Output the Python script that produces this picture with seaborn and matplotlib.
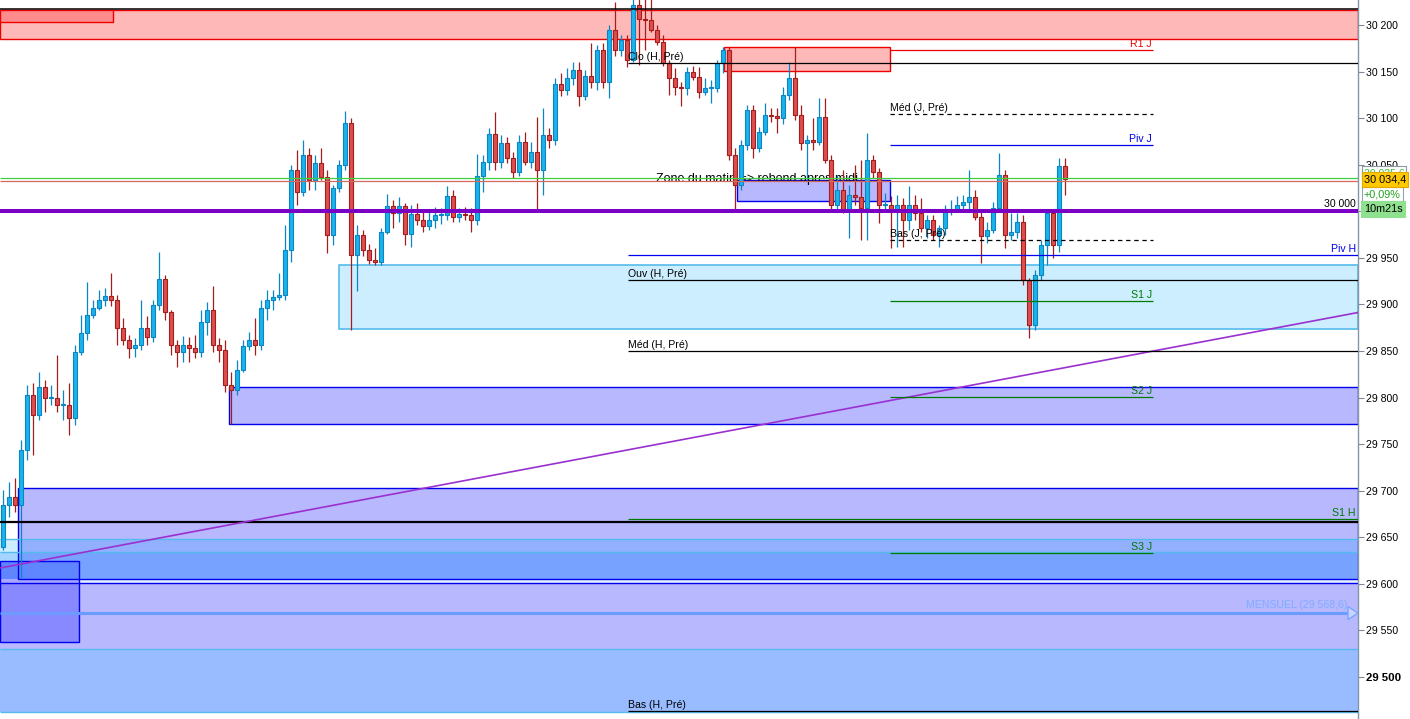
import numpy as np
import pandas as pd
import matplotlib
matplotlib.use("Agg")
import matplotlib.pyplot as plt
from matplotlib.patches import Rectangle, Polygon
import matplotlib.transforms as mtrans
import seaborn as sns

# ---------------- data ----------------
opens = [29640,29685,29693,29685,29744,29803,29781,29811,29799,29799,
         29792,29792,29778,29849,29869,29889,29896,29905,29909,29905,
         29875,29862,29853,29856,29875,29865,29899,29927,29892,29856,
         29849,29856,29853,29849,29881,29894,29856,29851,29813,29808,
         29830,29855,29862,29856,29896,29905,29908,29910,29958,30044,
         30021,30060,30034,30052,30037,29975,30025,30050,30095,29953,
         29975,29958,29948,29946,29978,30006,29998,30006,29976,29997,
         29991,29984,29991,29996,29996,30016,29994,29997,29996,29991,
         30038,30053,30083,30053,30073,30057,30042,30074,30053,30064,
         30044,30082,30077,30137,30130,30143,30152,30124,30145,30139,
         30173,30139,30195,30173,30184,30162,30221,30206,30205,30195,
         30182,30159,30143,30133,30132,30150,30144,30128,30132,30132,
         30159,30173,30060,30028,30071,30109,30068,30085,30103,30102,
         30100,30125,30143,30103,30073,30077,30074,30101,30055,30007,
         30023,30001,30017,30015,30003,30055,30042,30007,30007,30001,
         30007,29991,30007,29998,29982,29991,29975,29982,30001,30002,
         30007,30010,30015,29994,29973,29980,30003,30039,29975,29978,
         29988,29926,29878,29932,29964,29998,29964,30049]
highs = [29701,29709,29714,29754,29813,29816,29827,29819,29813,29846,
         29808,29816,29856,29889,29924,29905,29915,29918,29934,29910,
         29885,29867,29864,29905,29888,29905,29956,29932,29894,29862,
         29866,29865,29867,29894,29903,29920,29864,29862,29827,29840,
         29862,29870,29885,29905,29915,29915,29934,29985,30050,30066,
         30077,30068,30060,30068,30044,30028,30055,30108,30100,29985,
         29980,29965,29961,29982,30019,30012,30015,30009,30007,30009,
         29999,30001,30005,30003,30027,30023,30003,30005,30003,30061,
         30060,30089,30107,30082,30080,30064,30082,30085,30074,30101,
         30111,30089,30143,30148,30154,30160,30160,30152,30181,30178,
         30181,30200,30225,30189,30189,30243,30238,30232,30235,30200,
         30189,30162,30154,30139,30155,30156,30155,30143,30141,30162,
         30176,30176,30068,30077,30114,30114,30090,30116,30111,30111,
         30133,30160,30176,30114,30082,30100,30122,30122,30060,30039,
         30044,30028,30050,30055,30084,30060,30046,30020,30016,30017,
         30014,30027,30017,30014,29996,29996,29985,30007,30012,30016,
         30017,30044,30023,29999,29988,30010,30063,30044,29998,29998,
         29996,29928,29937,29969,30001,30001,30057,30057]
lows = [29636,29672,29677,29606,29733,29738,29776,29784,29792,29784,
        29776,29760,29771,29846,29862,29885,29894,29898,29898,29856,
        29856,29842,29844,29851,29856,29860,29894,29883,29846,29833,
        29838,29838,29842,29844,29867,29849,29838,29806,29772,29803,
        29827,29851,29846,29851,29883,29894,29905,29905,29946,30007,
        30016,30023,30023,30034,29955,29964,30021,30044,29872,29914,
        29952,29943,29942,29942,29976,29982,29988,29964,29962,29985,
        29978,29980,29982,29986,29991,29988,29988,29991,29978,29985,
        30021,30044,30044,30046,30052,30036,30038,30050,30046,30001,
        30017,30068,30071,30124,30125,30136,30113,30119,30132,30130,
        30132,30122,30167,30167,30155,30160,30157,30173,30192,30178,
        30156,30125,30125,30113,30125,30141,30122,30125,30116,30128,
        30148,30055,30001,30023,30066,30057,30064,30082,30096,30084,
        30094,30119,30098,30066,30034,30066,30071,30052,29999,29999,
        29998,29971,30007,29969,29969,30036,29987,29999,29961,29962,
        29962,29980,29991,29978,29971,29969,29962,29975,29996,29999,
        30001,30001,29991,29944,29966,29977,29999,29961,29969,29971,
        29921,29864,29872,29926,29942,29950,29956,30017]
closes = [29685,29693,29685,29744,29803,29781,29811,29799,29801,29792,
          29792,29778,29849,29869,29889,29896,29905,29909,29905,29875,
          29862,29853,29856,29875,29865,29899,29927,29892,29856,29849,
          29856,29853,29849,29881,29894,29856,29851,29813,29808,29830,
          29855,29862,29856,29896,29905,29908,29910,29958,30044,30021,
          30060,30034,30052,30037,29975,30025,30050,30095,29953,29975,
          29958,29948,29946,29978,30006,29998,30006,29976,29997,29991,
          29984,29991,29996,29996,30016,29994,29997,29996,29991,30038,
          30053,30083,30053,30073,30057,30042,30074,30053,30064,30044,
          30082,30077,30137,30130,30143,30152,30124,30145,30139,30173,
          30139,30195,30173,30184,30162,30221,30206,30205,30195,30182,
          30159,30143,30133,30132,30150,30144,30128,30132,30132,30159,
          30173,30060,30028,30071,30109,30068,30085,30103,30102,30100,
          30125,30143,30103,30073,30077,30074,30101,30055,30007,30023,
          30001,30017,30015,30003,30055,30042,30007,30007,30001,30007,
          29991,30007,29998,29982,29991,29975,29982,30001,30002,30007,
          30010,30015,29994,29973,29980,30003,30039,29975,29978,29988,
          29926,29878,29932,29964,29998,29964,30049,30034.4]

# price axis ticks (the 30 000 tick label is hidden behind the timer tag)
tick_values = [29500, 29550, 29600, 29650, 29700, 29750, 29800, 29850,
               29900, 29950, 30000, 30050, 30100, 30150, 30200]
tick_labels = ["29 500", "29 550", "29 600", "29 650", "29 700", "29 750",
               "29 800", "29 850", "29 900", "29 950", "", "30 050",
               "30 100", "30 150", "30 200"]

# zones (low, high)
zone_r1 = (30185.0, 30216.0)
zone_r1_left = (30203.0, 30216.0)
zone_clo = (30150.6, 30176.4)
zone_matin = (30011.0, 30033.6)
zone_cyan = (29873.6, 29942.3)
zone_s2 = (29771.6, 29811.3)
zone_a = (29604.8, 29702.5)
zone_a_bands = [29634.1, 29647.8]
zone_b = (29530.0, 29600.5)
zone_c = (29462.0, 29530.0)
zone_box = (29537.2, 29624.1)

# daily pivot levels (short lines) and weekly levels (long lines)
day_names = ["R1 J", "Méd (J, Pré)", "Piv J", "Bas (J, Pré)", "S1 J", "S2 J", "S3 J"]
day_values = [30173.2, 30104.4, 30071.2, 29969.2, 29903.7, 29800.6, 29633.1]
week_names = ["Clo (H, Pré)", "Piv H", "Ouv (H, Pré)", "Méd (H, Pré)", "S1 H", "Bas (H, Pré)"]
week_values = [30159.2, 29953.1, 29926.2, 29850.0, 29669.6, 29463.5]

top_black = 30217.0
bid_line = 30035.6
last_line = 30032.5
round_level = 30000.0
black_level = 29666.7
mensuel = 29568.6
trend_start, trend_end = 29617.0, 29891.3

price_tags = ["30 035,6", "30 034,4", "+0,09%", "10m21s"]

# ---------------- figure ----------------
sns.set_theme(style="white")
plt.rcParams['font.family'] = ['Liberation Sans', 'DejaVu Sans']

W, H = 1410, 719
PLOT_W = 1358
fig = plt.figure(figsize=(W / 100, H / 100), dpi=100)
fig.patch.set_facecolor("white")
ax = fig.add_axes([0, 0, PLOT_W / W, 1])
ax.set_facecolor("white")

PX = 6.0
def xi(px):
    return (px - 3) / PX

X0, X1 = xi(0), xi(PLOT_W)
ax.set_xlim(X0, X1)
ax.set_ylim(29454.9, 30226.8)

def rect(x0px, x1px, lo, hi, fc, ec="none", lw=0.0, z=1):
    ax.add_patch(Rectangle((xi(x0px), lo), xi(x1px) - xi(x0px), hi - lo,
                           facecolor=fc, edgecolor=ec, linewidth=lw, zorder=z))

BLUE = "#0000ee"
CYANE = "#55bbee"
LAV = "#b8b8ff"
PINK = "#ffb8b8"

# top red zone
rect(0, PLOT_W, *zone_r1, PINK, "#ee0000", 1.0)
rect(0, 113, *zone_r1_left, "#ff8c8c", "#ee0000", 1.0, z=1.1)
rect(724, 890, *zone_clo, PINK, "#ee0000", 1.0)
rect(737, 890, *zone_matin, LAV, BLUE, 1.0)
rect(339, PLOT_W, *zone_cyan, "#cceeff", CYANE, 1.2)
rect(229, PLOT_W, *zone_s2, LAV, BLUE, 1.0)

# lower stacked zones
rect(18, PLOT_W, *zone_a, LAV, "none", 0)
rect(18, PLOT_W, zone_a_bands[0], zone_a_bands[1], "#93b0ff", z=1.05)
rect(18, PLOT_W, zone_a[0], zone_a_bands[0], "#78a2ff", z=1.05)
rect(0, 18, zone_a_bands[0], zone_a_bands[1], "#cceeff", z=1.05)
rect(0, 18, zone_a[0], zone_a_bands[0], "#a4d4ff", z=1.05)
rect(0, PLOT_W, zone_b[1], zone_a[0], "#e4f2ff", z=1.0)
rect(0, PLOT_W, *zone_b, LAV, z=1.0)
rect(0, PLOT_W, *zone_c, "#99bbff", z=1.0)
rect(0, 79, zone_b[0] + 7.2, zone_b[1], "#8888ff", z=1.1)
rect(0, 79, zone_a[0], zone_box[1], "#5f86ff", z=1.1)
rect(0, 79, zone_b[1], zone_a[0], "#a8a8ff", z=1.1)
rect(0, 79, *zone_box, "none", BLUE, 1.0, z=1.2)
rect(18, PLOT_W, *zone_a, "none", BLUE, 1.0, z=1.2)
ax.hlines(zone_b[1], X0, X1, color=BLUE, lw=1.0, zorder=1.2)
for v in zone_a_bands + [zone_b[0], zone_c[0]]:
    ax.hlines(v, X0, X1, color=CYANE, lw=1.0, zorder=1.2)

# annotation text under candles
ax.text(xi(656), 30028.5, "Zone du matin => rebond apres midi", fontsize=9,
        color="black", ha="left", va="bottom", zorder=2)

# ---------------- candles ----------------
df = pd.DataFrame({"open": opens, "high": highs, "low": lows, "close": closes})
df["i"] = np.arange(len(df))
df["low"] = np.minimum(df["low"], np.minimum(df["open"], df["close"]))
df["high"] = np.maximum(df["high"], np.maximum(df["open"], df["close"]))
df["dir"] = np.where(df["close"] >= df["open"], "up", "down")
styles = {"up": ("#1cb2ea", "#0a86c4"), "down": ("#dc4f4f", "#a51c1c")}
for d, (fc, ec) in styles.items():
    s = df[df["dir"] == d]
    ax.vlines(s["i"], s["low"], s["high"], color=ec, lw=0.9, zorder=4)
    h = (s["close"] - s["open"]).abs().clip(lower=1.0)
    ax.bar(s["i"], h, bottom=np.minimum(s["open"], s["close"]), width=0.55,
           color=fc, edgecolor=ec, linewidth=0.8, zorder=5)

# ---------------- lines ----------------
ax.hlines(top_black, X0, X1, color="black", lw=1.1, zorder=6)
ax.hlines(bid_line, X0, X1, color="#3fcf3f", lw=0.9, zorder=6)
ax.hlines(last_line, X0, X1, color="#d06a5a", lw=0.9, zorder=6)
ax.hlines(round_level, X0, X1, color="#7a00c4", lw=2.9, zorder=6)
ax.hlines(black_level, X0, X1, color="black", lw=1.6, zorder=6)
ax.hlines(mensuel, X0, xi(1348), color="#6b9bff", lw=2.2, zorder=6)
ax.add_patch(Polygon([(xi(1348), mensuel + 7), (xi(1348), mensuel - 7),
                      (xi(1358), mensuel)], closed=True, facecolor="#c8d4ff",
                     edgecolor="#7aa6ff", lw=1.0, zorder=6))
sns.lineplot(x=[X0, X1], y=[trend_start, trend_end], ax=ax, color="#9a30d0",
             lw=1.2, zorder=6)

day_colors = {"R1 J": "#ee0000", "Piv J": "#0000ee", "S1 J": "#007a00",
              "S2 J": "#007a00", "S3 J": "#007a00"}
for name, v in zip(day_names, day_values):
    c = day_colors.get(name, "black")
    ls = (0, (3.5, 3)) if "Pré" in name else "-"
    ax.hlines(v, xi(890), xi(1153), color=c, lw=0.9, linestyles=ls, zorder=6)
    if "Pré" in name:
        ax.text(xi(890), v + 1.5, name, fontsize=7.6, color="black",
                ha="left", va="bottom", zorder=7)
    else:
        ax.text(xi(1152), v + 1.5, name, fontsize=7.6, color=c,
                ha="right", va="bottom", zorder=7)

week_colors = {"Piv H": "#0000ee", "S1 H": "#007a00"}
for name, v in zip(week_names, week_values):
    c = week_colors.get(name, "black")
    ax.hlines(v, xi(628), X1, color=c, lw=0.9, zorder=6)
    if "Pré" in name:
        ax.text(xi(628), v + 1.5, name, fontsize=7.6, color="black",
                ha="left", va="bottom", zorder=7)
    else:
        ax.text(xi(1356), v + 1.5, name, fontsize=7.6, color=c,
                ha="right", va="bottom", zorder=7)

ax.text(xi(1356), round_level + 2.5, "30 000", fontsize=7.6, color="black",
        ha="right", va="bottom", zorder=7)
ax.text(xi(1347), mensuel + 3.5, "MENSUEL (29 568,6)", fontsize=7.6,
        color="#80acff", ha="right", va="bottom", zorder=7)

# ---------------- right price axis ----------------
ax.yaxis.tick_right()
ax.set_yticks(tick_values)
ax.set_yticklabels(tick_labels)
ax.tick_params(axis="y", which="both", right=True, left=False, length=4,
               width=0.8, color="#7a8a9a", labelsize=7.6, pad=2,
               labelcolor="black")
for lab in ax.get_yticklabels():
    if lab.get_text() == "29 500":
        lab.set_fontweight("bold")
        lab.set_fontsize(8.2)
ax.set_xticks([])
for side in ["top", "left", "bottom"]:
    ax.spines[side].set_visible(False)
ax.spines["right"].set_color("#8596a8")
ax.spines["right"].set_linewidth(1.0)

# price tags on the axis
tr = mtrans.blended_transform_factory(fig.transFigure, ax.transData)
tx = 1364 / W
ax.text(tx, 30041.0, price_tags[0], transform=tr, fontsize=7.6, color="#3fbf3f",
        ha="left", va="center", zorder=10, clip_on=False,
        bbox=dict(boxstyle="square,pad=0.15", fc="white", ec="#8a96a0", lw=0.8))
ax.text(tx, 30034.0, price_tags[1], transform=tr, fontsize=7.8, color="black",
        ha="left", va="center", zorder=11, clip_on=False,
        bbox=dict(boxstyle="square,pad=0.2", fc="#ffc800", ec="#e0a800", lw=0.8))
ax.text(tx, 30018.5, price_tags[2], transform=tr, fontsize=7.8, color="#20a020",
        ha="left", va="center", zorder=10, clip_on=False,
        bbox=dict(boxstyle="square,pad=0.2", fc="white", ec="#9aa4ae", lw=0.8))
ax.text(tx, 30002.5, price_tags[3], transform=tr, fontsize=7.8, color="black",
        ha="left", va="center", zorder=10, clip_on=False,
        bbox=dict(boxstyle="square,pad=0.25", fc="#8fe08f", ec="#8fe08f", lw=0.8))

fig.savefig("out.png", dpi=100, facecolor="white")
